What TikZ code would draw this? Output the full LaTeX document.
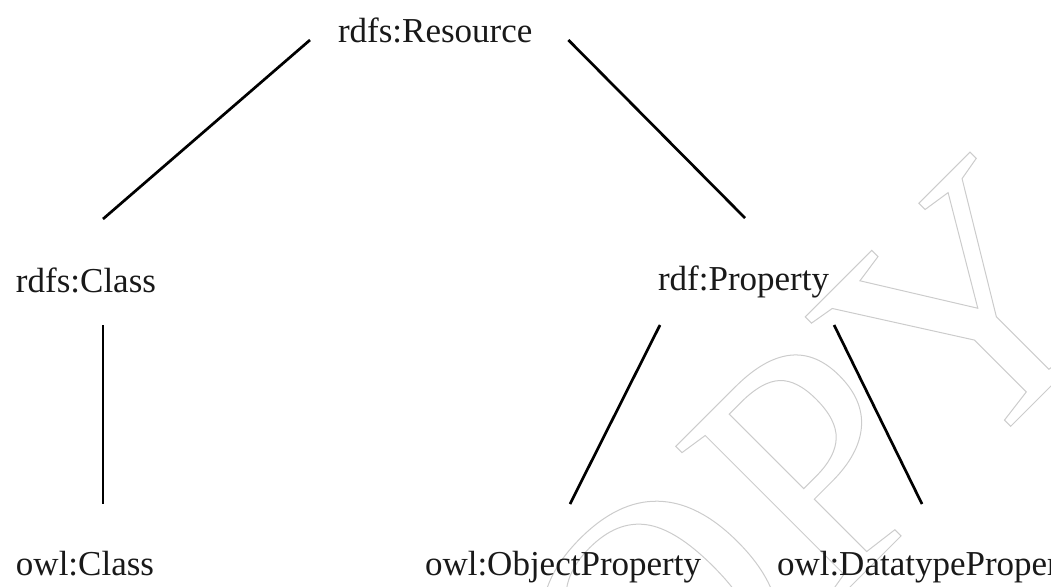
\documentclass[tikz,border=0pt]{standalone}
\usepackage{fontspec}
\setmainfont{Liberation Serif}
\usetikzlibrary{calc}
\tikzset{
  lbl/.style={inner sep=0pt, outer sep=0pt, font=\fontsize{35}{40}\selectfont, text=black!90},
  edge/.style={line width=2.7pt, black},
  wmark/.style={inner sep=0pt, rotate=45, anchor=base, text=black!20, line width=1pt,
     font=\fontsize{340}{340}\selectfont}
}
\begin{document}
\begin{tikzpicture}[x=1pt,y=-1pt]
\useasboundingbox (0,0) rectangle (1051,586);
\begin{scope}
\clip (0,0) rectangle (1051,586);
% faint outlined watermark
\node[wmark] (wm) at (813,624) {\special{pdf:literal direct 1 Tr 1 w}COPY\special{pdf:literal direct 0 Tr}};
% labels
\node[lbl, anchor=base west] (res)   at (338,43)  {rdfs:Resource};
\node[lbl, anchor=base west] (cls)   at (16,292)  {rdfs:Class};
\node[lbl, anchor=base west] (prop)  at (658,290) {rdf:Property};
\node[lbl, anchor=base west] (ocls)  at (16,575)  {owl:Class};
\node[lbl, anchor=base west] (oprop) at (425,575) {owl:ObjectProperty};
\node[lbl, anchor=base west] (dprop) at (777,575) {owl:DatatypeProperty};
% connectors
\draw[edge] ($(res.base west)+(-28,-3)$) -- ($(cls.base west)+(87,-73)$);
\draw[edge] ($(res.base east)+(36,-3)$) -- ($(prop.base west)+(87,-72)$);
\draw[edge] ($(cls.base west)+(87,33)$) -- ($(ocls.base west)+(87,-71)$);
\draw[edge] ($(prop.base west)+(2,35)$) -- ($(oprop.base west)+(145,-71)$);
\draw[edge] ($(prop.base east)+(5,35)$) -- ($(dprop.base west)+(145,-71)$);
\end{scope}
\end{tikzpicture}
\end{document}
